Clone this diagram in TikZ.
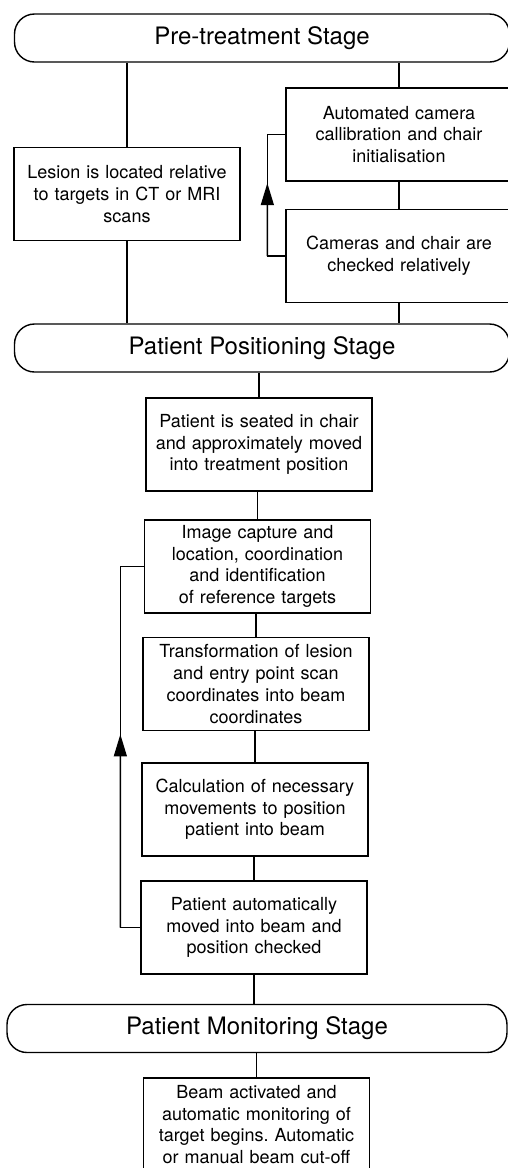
\documentclass[tikz,border=0pt]{standalone}
\usepackage{fontspec}
\setmainfont{TeX Gyre Heros}
\usetikzlibrary{arrows.meta,calc}

\tikzset{
  stage/.style={draw, line width=1.4pt, rounded corners=20pt, minimum width=495pt,
    minimum height=48pt, inner sep=0pt, font=\fontsize{24}{28}\selectfont},
  stepbox/.style={draw, line width=1.3pt, text width=210pt, inner xsep=8pt,
    align=center, minimum height=93pt, font=\fontsize{18}{21.7}\selectfont},
  link/.style={line width=1.3pt},
  fb/.style={line width=1.3pt, -{Triangle[length=22pt,width=13pt]}}
}

\begin{document}
\begin{tikzpicture}[x=1pt,y=-1pt]
	\clip (0,0) rectangle (508,1168);

	% pre-treatment
	\node[stage] (pre) at (262,38) {Pre-treatment Stage};

	\node[stepbox] (lesion) at (127,194) {Lesion is located relative\\to targets in CT or MRI\\scans};

	\node[stepbox] (cam) at (399,134.5) {Automated camera\\callibration and chair\\initialisation};
	\node[stepbox] (check) at (399,256) {Cameras and chair are\\checked relatively};

	% positioning
	\node[stage] (pos) at (262,348) {Patient Positioning Stage};

	\node[stepbox] (seat) at (259,444.5) {Patient is seated in chair\\and approximately moved\\into treatment position};
	\node[stepbox] (capture) at (257.5,566.5) {Image capture and\\location, coordination\\and identification\\of reference targets};
	\node[stepbox] (transf) at (256,684) {Transformation of lesion\\and entry point scan\\coordinates into beam\\coordinates};
	\node[stepbox] (movecalc) at (255,809.5) {Calculation of necessary\\movements to position\\patient into beam};
	\node[stepbox] (automove) at (254,927.5) {Patient automatically\\moved into beam and\\position checked};

	% monitoring
	\node[stage, minimum width=500pt] (mon) at (257,1028.5) {Patient Monitoring Stage};

	\node[stepbox] (beam) at (256.5,1124.5) {Beam activated and\\automatic monitoring of\\target begins.\ Automatic\\or manual beam cut-off};

	% connectors
	\draw[link] (lesion.north) -- (lesion.north |- pre.south);
	\draw[link] (lesion.south) -- (lesion.south |- pos.north);
	\draw[link] (cam.north) -- (cam.north |- pre.south);
	\draw[link] (cam.south) -- (check.north);
	\draw[link] (check.south) -- (check.south |- pos.north);

	\draw[link] (seat.north) -- (seat.north |- pos.south);
	\draw[link] (capture.north) -- (capture.north |- seat.south);
	\draw[link] (transf.north) -- (transf.north |- capture.south);
	\draw[link] (movecalc.north) -- (movecalc.north |- transf.south);
	\draw[link] (automove.north) -- (automove.north |- movecalc.south);
	\draw[link] (automove.south) -- (automove.south |- mon.north);
	\draw[link] (beam.north) -- (beam.north |- mon.south);

	% feedback loops
	\draw[link] (check.west) -- ++(-18,0) coordinate (loopa) |- (cam.west);
	\draw[fb] (loopa) -- ($(loopa)!0.6!(loopa |- cam.west)$);

	\draw[link] (automove.west) -- ++(-20,0) coordinate (loopb) |- (capture.west);
	\draw[fb] (loopb) -- ($(loopb)!0.535!(loopb |- capture.west)$);
\end{tikzpicture}
\end{document}
